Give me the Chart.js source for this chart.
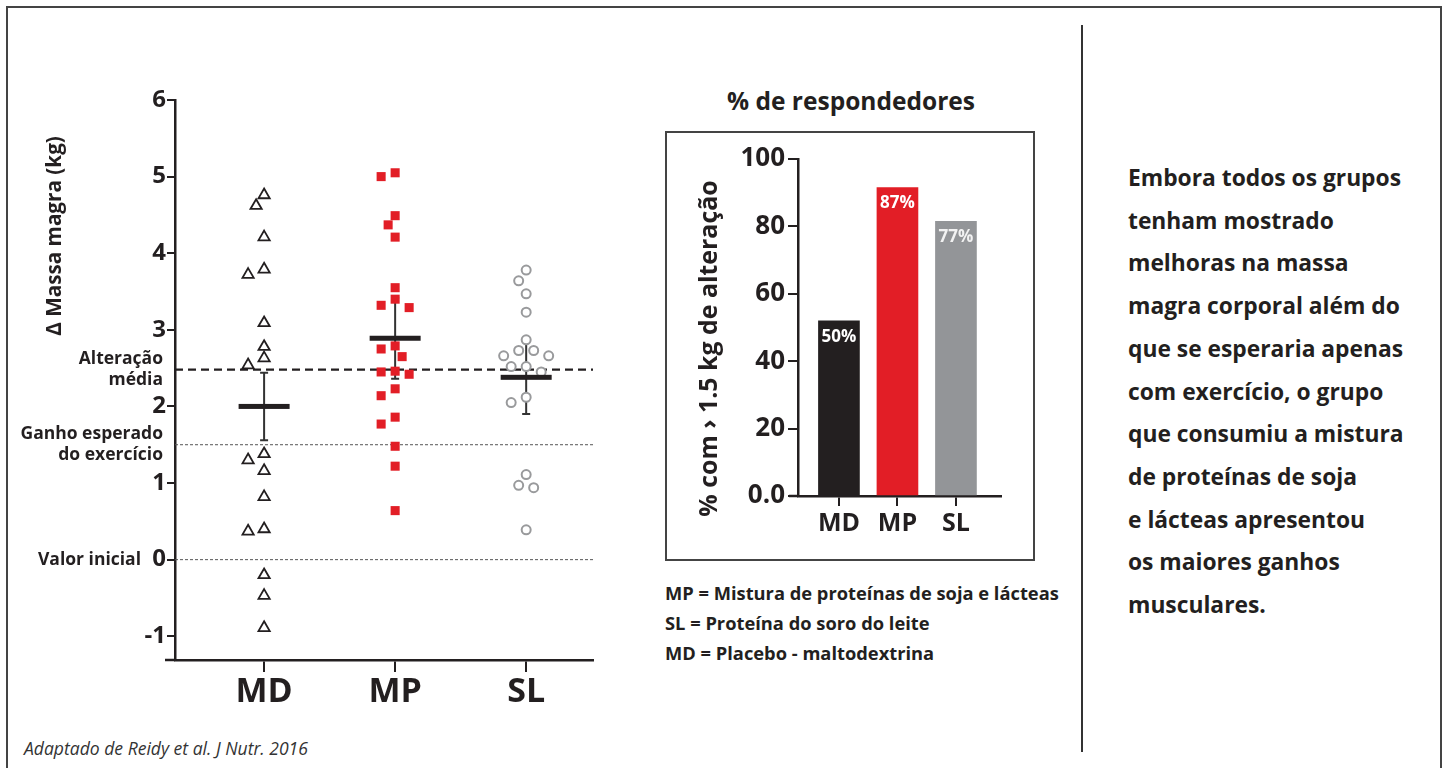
<!DOCTYPE html>
<html>
<head>
<meta charset="utf-8">
<script src="https://cdn.jsdelivr.net/npm/chart.js@4.4.0/dist/chart.umd.min.js"></script>
<style>
  body { margin: 0; width: 1448px; height: 768px; overflow: hidden; position: relative; background: #fff;
         font-family: "Open Sans", sans-serif; color: #231f20; }
  .abs { position: absolute; }
  #frame { left: 6px; top: 6px; width: 1436px; height: 800px; border: 2px solid #444; box-sizing: border-box; }
  #divider { left: 1081px; top: 25px; width: 2px; height: 727px; background: #333; }
  #barbox { left: 665px; top: 131px; width: 370px; height: 430px; border: 2px solid #444; box-sizing: border-box; }
  #barTitle { left: 665px; width: 372px; top: 86px; line-height: 30px; text-align: center; font-weight: 700; white-space: nowrap; }
  #note { left: 1128px; top: 157px; line-height: 42.7px; font-weight: 700; white-space: nowrap; }
  #legend { left: 665px; top: 578px; line-height: 30px; font-weight: 700; white-space: nowrap; }
  #source { left: 24px; top: 738px; line-height: 20px; font-style: italic; color: #333; white-space: nowrap; }
  canvas { position: absolute; }
</style>
</head>
<body>
<div id="frame" class="abs"></div>
<div id="divider" class="abs"></div>
<div id="barbox" class="abs"></div>
<div id="barTitle" class="abs" data-fit="% de respondedores" data-w="248">% de respondedores</div>
<div id="note" class="abs" data-fit="Embora todos os grupos" data-w="273"></div>
<div id="legend" class="abs" data-fit="MP = Mistura de proteínas de soja e lácteas" data-w="394"></div>
<div id="source" class="abs" data-fit="Adaptado de Reidy et al. J Nutr. 2016" data-w="284" data-italic="1">Adaptado de Reidy et al. J Nutr. 2016</div>
<canvas id="scatter" width="650" height="740" style="left:0;top:0"></canvas>
<canvas id="bars" width="370" height="430" style="left:665px;top:131px"></canvas>
<script>
// --- data: delta lean mass (kg) per group ---
const groups = ['MD', 'MP', 'SL']
const mdValues = [4.76, 4.62, 4.21, 3.79, 3.72, 3.09, 2.78, 2.63, 2.54, 1.38, 1.30, 1.16, 0.82, 0.40, 0.37, -0.20, -0.47, -0.89]
const mpValues = [5.05, 5.00, 4.49, 4.37, 4.21, 3.55, 3.40, 3.32, 3.29, 2.79, 2.75, 2.65, 2.46, 2.45, 2.42, 2.23, 2.14, 1.86, 1.77, 1.48, 1.22, 0.64]
const slValues = [3.78, 3.64, 3.47, 3.23, 2.87, 2.73, 2.73, 2.66, 2.66, 2.52, 2.52, 2.45, 2.12, 2.05, 1.11, 0.97, 0.94, 0.39]
const groupMeans = [2.00, 2.89, 2.38]
const groupErrors = [0.44, 0.53, 0.48]
const refValues = [2.48, 1.5, 0]
const refLabels = [['Alteração', 'média'], ['Ganho esperado', 'do exercício'], ['Valor inicial']]
const yTitle = 'Δ Massa magra (kg)'

// --- data: % responders ---
const barValues = [52, 91.5, 81.5]
const barLabels = ['50%', '87%', '77%']
const barTicks = [0, 20, 40, 60, 80, 100]
const barTickLabels = ['0.0', '20', '40', '60', '80', '100']
const barYTitle = '% com › 1.5 kg de alteração'

const noteLines = ['Embora todos os grupos', 'tenham mostrado', 'melhoras na massa', 'magra corporal além do',
  'que se esperaria apenas', 'com exercício, o grupo', 'que consumiu a mistura', 'de proteínas de soja',
  'e lácteas apresentou', 'os maiores ganhos', 'musculares.']
const legendLines = ['MP = Mistura de proteínas de soja e lácteas', 'SL = Proteína do soro do leite', 'MD = Placebo - maltodextrina']

const FONT = '"Open Sans", sans-serif'
const INK = '#231f20'

document.getElementById('note').innerHTML = noteLines.join('<br>')
document.getElementById('legend').innerHTML = legendLines.join('<br>')

const mctx = document.createElement('canvas').getContext('2d')
function fitSize(text, width, weight, italic) {
  mctx.font = (italic ? 'italic ' : '') + weight + ' 100px ' + FONT
  return 100 * width / mctx.measureText(text).width
}
document.querySelectorAll('[data-fit]').forEach((el) => {
  const italic = !!el.dataset.italic
  el.style.fontSize = fitSize(el.dataset.fit, +el.dataset.w, italic ? 400 : 700, italic).toFixed(2) + 'px'
})

// simple beeswarm: slot index per point so markers don't collide
function swarm(values, slotPx, pxPerUnit, diam) {
  const order = values.map((v, i) => i).sort((a, b) => values[b] - values[a])
  const placed = []
  const out = []
  order.forEach((i) => {
    for (let k = 0; ; k++) {
      const s = k === 0 ? 0 : (k % 2 ? -Math.ceil(k / 2) : k / 2)
      const free = placed.every((p) => Math.hypot((p.s - s) * slotPx, (p.v - values[i]) * pxPerUnit) >= diam)
      if (free) { placed.push({ s: s, v: values[i] }); out[i] = s; break }
    }
  })
  return out
}

const X_UNIT = 131   // px per category on the scatter x scale
const Y_UNIT = 76.6  // px per kg
function points(values, center, slotPx) {
  const slots = swarm(values, slotPx, Y_UNIT, 11)
  return values.map((v, i) => ({ x: center + slots[i] * slotPx / X_UNIT, y: v }))
}

const scatterDecor = {
  id: 'scatterDecor',
  beforeDatasetsDraw(chart) {
    const { ctx, chartArea: a, scales: { x, y } } = chart
    ctx.save()
    refValues.forEach((v, i) => {
      const py = y.getPixelForValue(v)
      ctx.strokeStyle = i === 0 ? INK : '#555'
      ctx.lineWidth = i === 0 ? 2.2 : 1
      ctx.setLineDash(i === 0 ? [8, 5] : [3, 2])
      ctx.beginPath(); ctx.moveTo(a.left, py); ctx.lineTo(a.right, py); ctx.stroke()
    })
    ctx.setLineDash([])
    // error bars
    ctx.strokeStyle = '#333'
    ctx.lineWidth = 2
    groupMeans.forEach((m, i) => {
      const px = x.getPixelForValue(i + 1)
      const top = y.getPixelForValue(m + groupErrors[i])
      const bot = y.getPixelForValue(m - groupErrors[i])
      ctx.beginPath()
      ctx.moveTo(px, top); ctx.lineTo(px, bot)
      ctx.moveTo(px - 4, top); ctx.lineTo(px + 4, top)
      ctx.moveTo(px - 4, bot); ctx.lineTo(px + 4, bot)
      ctx.stroke()
    })
    ctx.restore()
  },
  afterDatasetsDraw(chart) {
    const { ctx, scales: { x, y } } = chart
    ctx.save()
    ctx.fillStyle = INK
    groupMeans.forEach((m, i) => {
      const px = x.getPixelForValue(i + 1)
      ctx.fillRect(px - 25.5, y.getPixelForValue(m) - 2.5, 51, 5)
    })
    ctx.restore()
  },
  afterDraw(chart) {
    const { ctx, chartArea: a, scales: { y } } = chart
    ctx.save()
    // x axis runs a bit past the y axis
    ctx.strokeStyle = INK
    ctx.lineWidth = 2.5
    ctx.beginPath(); ctx.moveTo(a.left - 10, a.bottom); ctx.lineTo(a.left, a.bottom); ctx.stroke()
    // labels of the reference lines
    ctx.fillStyle = INK
    ctx.font = '700 17.5px ' + FONT
    ctx.textAlign = 'right'
    ctx.textBaseline = 'middle'
    refLabels.forEach((lines, i) => {
      const py = y.getPixelForValue(refValues[i])
      if (lines.length === 1) {
        ctx.fillText(lines[0], a.left - 34, py)
      } else {
        ctx.fillText(lines[0], a.left - 12, py - 10.5)
        ctx.fillText(lines[1], a.left - 12, py + 10.5)
      }
    })
    // y title
    ctx.translate(55, 236)
    ctx.rotate(-Math.PI / 2)
    ctx.textAlign = 'center'
    ctx.font = '700 ' + fitSize(yTitle, 200, 700).toFixed(1) + 'px ' + FONT
    ctx.fillText(yTitle, 0, 0)
    ctx.restore()
  }
}

new Chart(document.getElementById('scatter'), {
  type: 'scatter',
  data: {
    datasets: [
      {
        data: points(mdValues, 1, 8),
        pointStyle: 'triangle', pointRadius: 6.5, pointBorderWidth: 1.8,
        borderColor: INK, backgroundColor: '#fff'
      },
      {
        data: points(mpValues, 2, 7),
        pointStyle: 'rect', pointRadius: 6.4, pointBorderWidth: 0,
        backgroundColor: '#e21e26', borderColor: '#e21e26'
      },
      {
        data: points(slValues, 3, 7.5),
        pointStyle: 'circle', pointRadius: 4.5, pointBorderWidth: 2,
        borderColor: '#999a9c', backgroundColor: '#fff'
      }
    ]
  },
  options: {
    responsive: false,
    animation: false,
    layout: { padding: { left: 0, top: 100, right: 57, bottom: 20 } },
    plugins: { legend: { display: false }, tooltip: { enabled: false } },
    scales: {
      x: {
        type: 'linear', min: 0.32, max: 3.51,
        afterFit: (s) => { s.height = 60 },
        border: { display: true, color: INK, width: 2.5 },
        grid: { drawOnChartArea: false, drawTicks: true, tickLength: 12, color: INK, lineWidth: 2 },
        ticks: {
          stepSize: 1, includeBounds: false, padding: 0,
          color: INK, font: { family: FONT, size: 34, weight: '700' },
          callback: (v) => groups[v - 1]
        }
      },
      y: {
        min: -1.31, max: 6,
        afterFit: (s) => { s.width = 175 },
        border: { display: true, color: INK, width: 2.5 },
        grid: { drawOnChartArea: false, drawTicks: true, tickLength: 8, color: INK, lineWidth: 2 },
        ticks: {
          stepSize: 1, includeBounds: false, padding: 1,
          color: INK, font: { family: FONT, size: 24, weight: '700' }
        }
      }
    }
  },
  plugins: [scatterDecor]
})

const barDecor = {
  id: 'barDecor',
  afterDraw(chart) {
    const { ctx, chartArea: a, scales: { x, y } } = chart
    ctx.save()
    ctx.strokeStyle = INK
    ctx.lineWidth = 2.5
    ctx.beginPath(); ctx.moveTo(a.left - 9, a.bottom); ctx.lineTo(a.left, a.bottom); ctx.stroke()
    ctx.font = '700 17px ' + FONT
    ctx.textAlign = 'center'
    ctx.textBaseline = 'middle'
    barValues.forEach((v, i) => {
      ctx.fillStyle = i === 2 ? '#f2f2f2' : '#fff'
      ctx.fillText(barLabels[i], x.getPixelForValue(i + 1), y.getPixelForValue(v) + 16)
    })
    ctx.fillStyle = INK
    ctx.translate(45, 217.5)
    ctx.rotate(-Math.PI / 2)
    ctx.font = '700 ' + fitSize(barYTitle, 337, 700).toFixed(1) + 'px ' + FONT
    ctx.fillText(barYTitle, 0, 0)
    ctx.restore()
  }
}

new Chart(document.getElementById('bars'), {
  type: 'bar',
  data: {
    datasets: [{
      data: barValues.map((v, i) => ({ x: i + 1, y: v })),
      backgroundColor: ['#231f20', '#e21e26', '#939598'],
      barThickness: 41,
      borderWidth: 0
    }]
  },
  options: {
    responsive: false,
    animation: false,
    layout: { padding: { left: 0, top: 28, right: 34, bottom: 5 } },
    plugins: { legend: { display: false }, tooltip: { enabled: false } },
    scales: {
      x: {
        type: 'linear', min: 0.30, max: 3.77, offset: false,
        afterFit: (s) => { s.height = 60 },
        border: { display: true, color: INK, width: 2.5 },
        grid: { offset: false, drawOnChartArea: false, drawTicks: true, tickLength: 10, color: INK, lineWidth: 2 },
        ticks: {
          stepSize: 1, includeBounds: false, padding: 3, autoSkip: false, maxRotation: 0,
          color: INK, font: { family: FONT, size: 25, weight: '700' },
          callback: (v) => groups[v - 1]
        }
      },
      y: {
        min: 0, max: 100,
        afterFit: (s) => { s.width = 133 },
        border: { display: true, color: INK, width: 2.5 },
        grid: { drawOnChartArea: false, drawTicks: true, tickLength: 10, color: INK, lineWidth: 2 },
        ticks: {
          stepSize: 20, padding: 3,
          color: INK, font: { family: FONT, size: 26, weight: '700' },
          callback: (v) => barTickLabels[barTicks.indexOf(v)]
        }
      }
    }
  },
  plugins: [barDecor]
})
</script>
</body>
</html>
